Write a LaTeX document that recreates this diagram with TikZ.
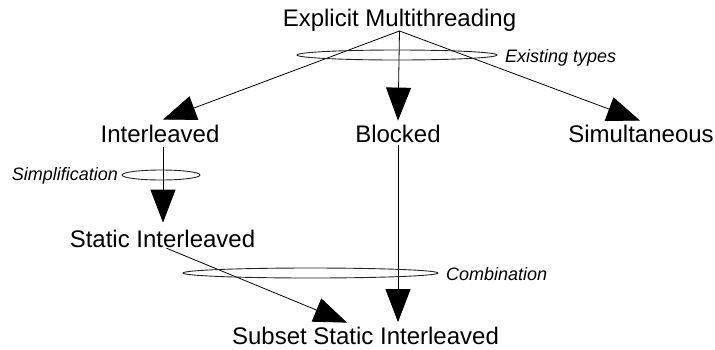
\documentclass[tikz,border=0pt]{standalone}
\usepackage{fontspec}
\setmainfont{Liberation Sans}
\usetikzlibrary{arrows.meta}
\tikzset{
  mainlbl/.style={inner sep=0pt, outer sep=0pt, anchor=base, font=\fontsize{24}{28}\selectfont},
  sidelbl/.style={inner sep=0pt, outer sep=0pt, font=\fontsize{18}{22}\selectfont\itshape},
  arr/.style={line width=0.8pt, -{Triangle[length=33pt,width=25pt]}},
  ring/.style={line width=0.9pt, draw=black!85},
}
\begin{document}
\begin{tikzpicture}[x=1pt,y=-1pt]
\useasboundingbox (0,0) rectangle (715,349);
\node[mainlbl] (em) at (399.5,26) {Explicit Multithreading};
\node[mainlbl] (il) at (160,142) {Interleaved};
\node[mainlbl] (bl) at (398,142) {Blocked};
\node[mainlbl] (si) at (641,142) {Simultaneous};
\node[mainlbl] (sil) at (162.5,247) {Static Interleaved};
\node[mainlbl] (ssi) at (365.5,344.5) {Subset Static Interleaved};

\draw[arr] (em.south) -- ([xshift=3pt,yshift=5pt]il.north);
\draw[arr] (em.south) -- ([yshift=4pt]bl.north);
\draw[arr] (em.south) -- ([xshift=-1pt,yshift=4pt]si.north);
\draw[arr] ([xshift=3pt,yshift=-5pt]il.south) -- ([xshift=0.5pt,yshift=7pt]sil.north);
\draw[arr] ([yshift=-3pt]bl.south) -- ([xshift=32.5pt,yshift=5pt]ssi.north);
\draw[arr] ([xshift=4pt,yshift=-1pt]sil.south) -- ([xshift=-18.5pt,yshift=4.5pt]ssi.north);

\draw[ring] (397,55) ellipse [x radius=100, y radius=5];
\draw[ring] (161,175) ellipse [x radius=39, y radius=5];
\draw[ring] (310.5,273) ellipse [x radius=127.5, y radius=5];

\node[sidelbl, anchor=base west] (lt) at (505,62) {Existing types};
\node[sidelbl, anchor=base east] (ls) at (118,180) {Simplification};
\node[sidelbl, anchor=base west] (lc) at (446,280) {Combination};
\end{tikzpicture}
\end{document}
